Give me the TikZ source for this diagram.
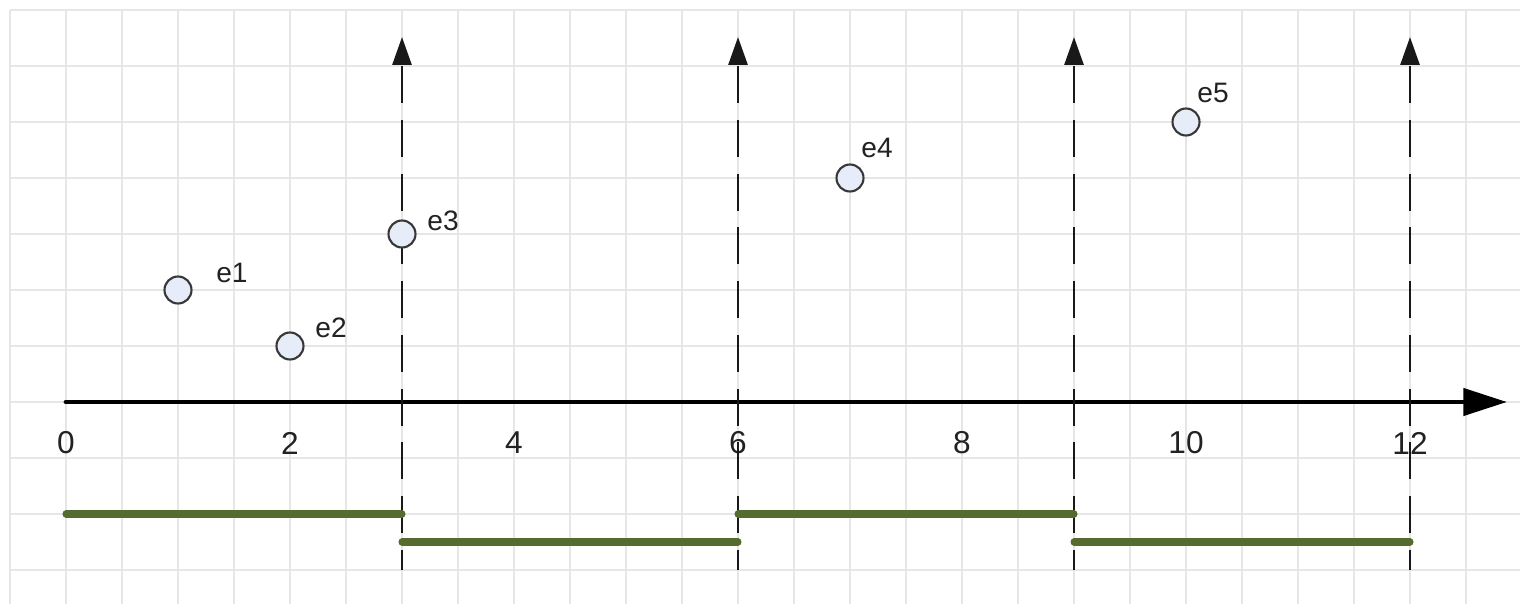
\documentclass[tikz,border=0pt]{standalone}
\usepackage{fontspec}
\setmainfont{Liberation Sans}
\usetikzlibrary{arrows.meta}
\definecolor{gridc}{HTML}{E6E6E6}
\definecolor{barc}{HTML}{556B2F}
\definecolor{evfill}{HTML}{E6EDF8}
\definecolor{evdraw}{HTML}{383838}
\definecolor{txt}{HTML}{222222}
\begin{document}
\begin{tikzpicture}[x=0.02cm,y=-0.02cm,
  gridline/.style={gridc, line width=1.1pt},
  axisline/.style={black, line width=2.8pt, line cap=round,
    -{Triangle[length=24.9pt,width=15.3pt]}},
  dasharrow/.style={black!90, line width=1.6pt,
    dash pattern=on 21pt off 9.6pt, dash phase=9.6pt,
    -{Triangle[length=15.9pt,width=10.8pt]}},
  bar/.style={barc, line width=4pt, line cap=round},
  event/.style={circle, draw=evdraw, fill=evfill, line width=1.2pt,
    minimum size=0.54cm, inner sep=0pt},
  elabel/.style={text=txt, font=\fontsize{16pt}{18pt}\selectfont, inner sep=0pt},
  tlabel/.style={text=txt, font=\fontsize{18pt}{20pt}\selectfont, inner sep=0pt}
]
\useasboundingbox (0,0) rectangle (1520,604);
\fill[white] (0,0) rectangle (1520,604);
% grid
\foreach \i in {0,...,26} \draw[gridline] ({10+56*\i},10) -- ({10+56*\i},604);
\foreach \j in {0,...,10} \draw[gridline] (10,{10+56*\j}) -- (1520,{10+56*\j});
% axis
\coordinate (o) at (66,402);
\coordinate (xend) at (1507,402);
\draw[axisline] (o) -- (xend);
% tick labels
\foreach \v in {0,2,...,12}
  \node[tlabel] (t\v) at ({66+112*\v},443) {\v};
% dashed arrows
\foreach \x/\n in {402/a,738/b,1074/c,1410/d} {
  \coordinate (\n bot) at (\x,570);
  \coordinate (\n top) at (\x,37);
  \draw[dasharrow] (\n bot) -- (\n top);
}
% bars
\coordinate (g0) at (66,514);   \coordinate (g1) at (402,514);
\coordinate (h1) at (402,542);  \coordinate (h2) at (738,542);
\coordinate (g2) at (738,514);  \coordinate (g3) at (1074,514);
\coordinate (h3) at (1074,542); \coordinate (h4) at (1410,542);
\draw[bar] (g0) -- (g1);
\draw[bar] (h1) -- (h2);
\draw[bar] (g2) -- (g3);
\draw[bar] (h3) -- (h4);
% events
\node[event] (e1) at (178,290) {};
\node[event] (e2) at (290,346) {};
\node[event] (e3) at (402,234) {};
\node[event] (e4) at (850,178) {};
\node[event] (e5) at (1186,122) {};
\node[elabel] (l1) at (232,273) {e1};
\node[elabel] (l2) at (331,328) {e2};
\node[elabel] (l3) at (443,221) {e3};
\node[elabel] (l4) at (877,148) {e4};
\node[elabel] (l5) at (1213,93) {e5};
\end{tikzpicture}
\end{document}
